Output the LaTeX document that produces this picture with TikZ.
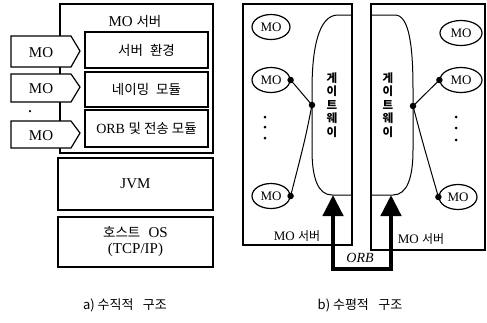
\documentclass[tikz,border=0pt]{standalone}
\usepackage{fontspec}
\setmainfont{Liberation Serif}
\newfontfamily\kr{Noto Sans CJK KR}
\usetikzlibrary{arrows.meta,shapes.geometric}
\tikzset{
  box/.style={draw, line width=1.2pt},
  pent/.style={draw, line width=1.2pt, fill=white},
  lbl/.style={font=\fontsize{15}{17}\selectfont, inner sep=0pt},
  krlbl/.style={font=\kr\fontsize{13.5}{15}\selectfont, inner sep=0pt},
  mo/.style={draw, ellipse, line width=1.2pt, minimum width=38pt, minimum height=25pt, inner sep=0pt, font=\fontsize{13}{15}\selectfont},
  gw/.style={line width=1pt},
  gwtext/.style={font=\kr\bfseries\fontsize{11.5}{13.5}\selectfont, align=center, inner sep=0pt},
  link/.style={line width=1pt},
  jdot/.style={circle, fill=black, inner sep=0pt, minimum size=6.5pt},
  vdot/.style={circle, fill=black, inner sep=0pt, minimum size=3pt},
  orb/.style={line width=4.5pt, line join=miter, {Triangle[width=20pt,length=21pt]}-{Triangle[width=20pt,length=21pt]}},
  captxt/.style={font=\kr\fontsize{13}{15}\selectfont, inner sep=0pt}
}
\begin{document}
\begin{tikzpicture}[x=1pt,y=-1pt]
\useasboundingbox (0,0) rectangle (487,322);
% ---------- a) vertical structure ----------
\draw[box] (60,4) rectangle (213,153);
\node[lbl] (srvA) at (135,21) {MO {\kr\fontsize{13.5}{15}\selectfont 서버}};
\node[box, minimum width=123pt, minimum height=36pt, inner sep=0pt, krlbl] (env) at (146.5,50) {서버\hspace{0.3em} 환경};
\node[box, minimum width=123pt, minimum height=35pt, inner sep=0pt, krlbl] (nam) at (146.5,89.5) {네이밍\hspace{0.3em} 모듈};
\node[box, minimum width=123pt, minimum height=37pt, inner sep=0pt, krlbl] (orbm) at (146.5,128.5) {\fontsize{14}{16}\selectfont\rmfamily ORB {\kr\fontsize{13.5}{15}\selectfont 및 전송 모듈}};
% pentagons
\draw[pent] (11,36) -- (71,36) -- (80,51) -- (71,67) -- (11,67) -- cycle;
\node[lbl] (mo1) at (41,53) {MO};
\draw[pent] (11,74) -- (71,74) -- (80,87) -- (71,102) -- (11,102) -- cycle;
\node[lbl] (mo2) at (41,89) {MO};
\draw[pent] (11,121) -- (71,121) -- (80,133) -- (71,148) -- (11,148) -- cycle;
\node[lbl] (mo3) at (41,136) {MO};
\node[vdot, minimum size=2.5pt] (sd) at (30,111) {};
% JVM, host OS
\node[box, minimum width=155pt, minimum height=52pt, inner sep=0pt, font=\fontsize{15}{17}\selectfont] (jvm) at (135.5,184) {JVM};
\node[box, minimum width=155pt, minimum height=50pt, inner sep=0pt, align=center, font=\fontsize{15}{16}\selectfont] (os) at (135.5,242) {{\kr\fontsize{13.5}{15}\selectfont 호스트}\hspace{0.3em} OS\\(TCP/IP)};
\node[captxt] (capA) at (125,305) {a) 수직적\hspace{0.5em} 구조};
% ---------- b) horizontal structure ----------
\draw[box] (243,4) rectangle (352,245);
\draw[box] (371,4) rectangle (485,250);
% gateways
\draw[gw] (352,15) -- (338,15) .. controls (318,15) and (312,50) .. (312,90) -- (312,150) .. controls (312,178) and (318,195) .. (332,195) -- (352,195);
\draw[gw] (371,15) -- (395,15) .. controls (410,15) and (413,50) .. (413,90) -- (413,150) .. controls (413,178) and (407,195) .. (393,195) -- (371,195);
\coordinate (gl) at (333,195);
\coordinate (gr) at (391,195);
\node[gwtext] (gwL) at (332,105) {게\\이\\트\\웨\\이};
\node[gwtext] (gwR) at (388,105) {게\\이\\트\\웨\\이};
% left MOs
\node[mo] (l1) at (271,27) {MO};
\node[mo] (l2) at (271,80) {MO};
\node[mo] (l3) at (271,196) {MO};
\node[vdot] at (265,117) {};
\node[vdot] at (265,127) {};
\node[vdot] at (265,138) {};
\node[jdot] (l2d) at (l2.east) {};
\node[jdot] (l3d) at (l3.east) {};
\node[jdot] (gjl) at (312,105) {};
\draw[link] (l2d.center) -- (gjl.center);
\draw[link] (gjl.center) .. controls (305,140) .. (l3d.center);
\node[font=\fontsize{13}{15}\selectfont, inner sep=0pt] (srvL) at (297,236) {MO {\kr\fontsize{12}{14}\selectfont 서버}};
% right MOs
\node[mo, minimum width=42pt] (r1) at (461,33) {MO};
\node[mo, minimum width=42pt] (r2) at (461,80) {MO};
\node[mo] (r3) at (458,197) {MO};
\node[vdot] at (456,117) {};
\node[vdot] at (456,128) {};
\node[vdot] at (456,140) {};
\node[jdot] (r2d) at (r2.west) {};
\node[jdot] (r3d) at (r3.west) {};
\node[jdot] (gjr) at (413,106) {};
\draw[link] (r2d.center) -- (gjr.center);
\draw[link] (gjr.center) .. controls (422,140) .. (r3d.center);
\node[font=\fontsize{13}{15}\selectfont, inner sep=0pt] (srvR) at (421,239) {MO {\kr\fontsize{12}{14}\selectfont 서버}};
% ORB
\draw[orb] (gl) -- (333,269) -- (391,269) -- (gr);
\node[font=\itshape\fontsize{14}{16}\selectfont, inner sep=0pt] (orbl) at (360,258) {ORB};
\node[captxt] (capB) at (360,305) {b) 수평적\hspace{0.5em} 구조};
\end{tikzpicture}
\end{document}
